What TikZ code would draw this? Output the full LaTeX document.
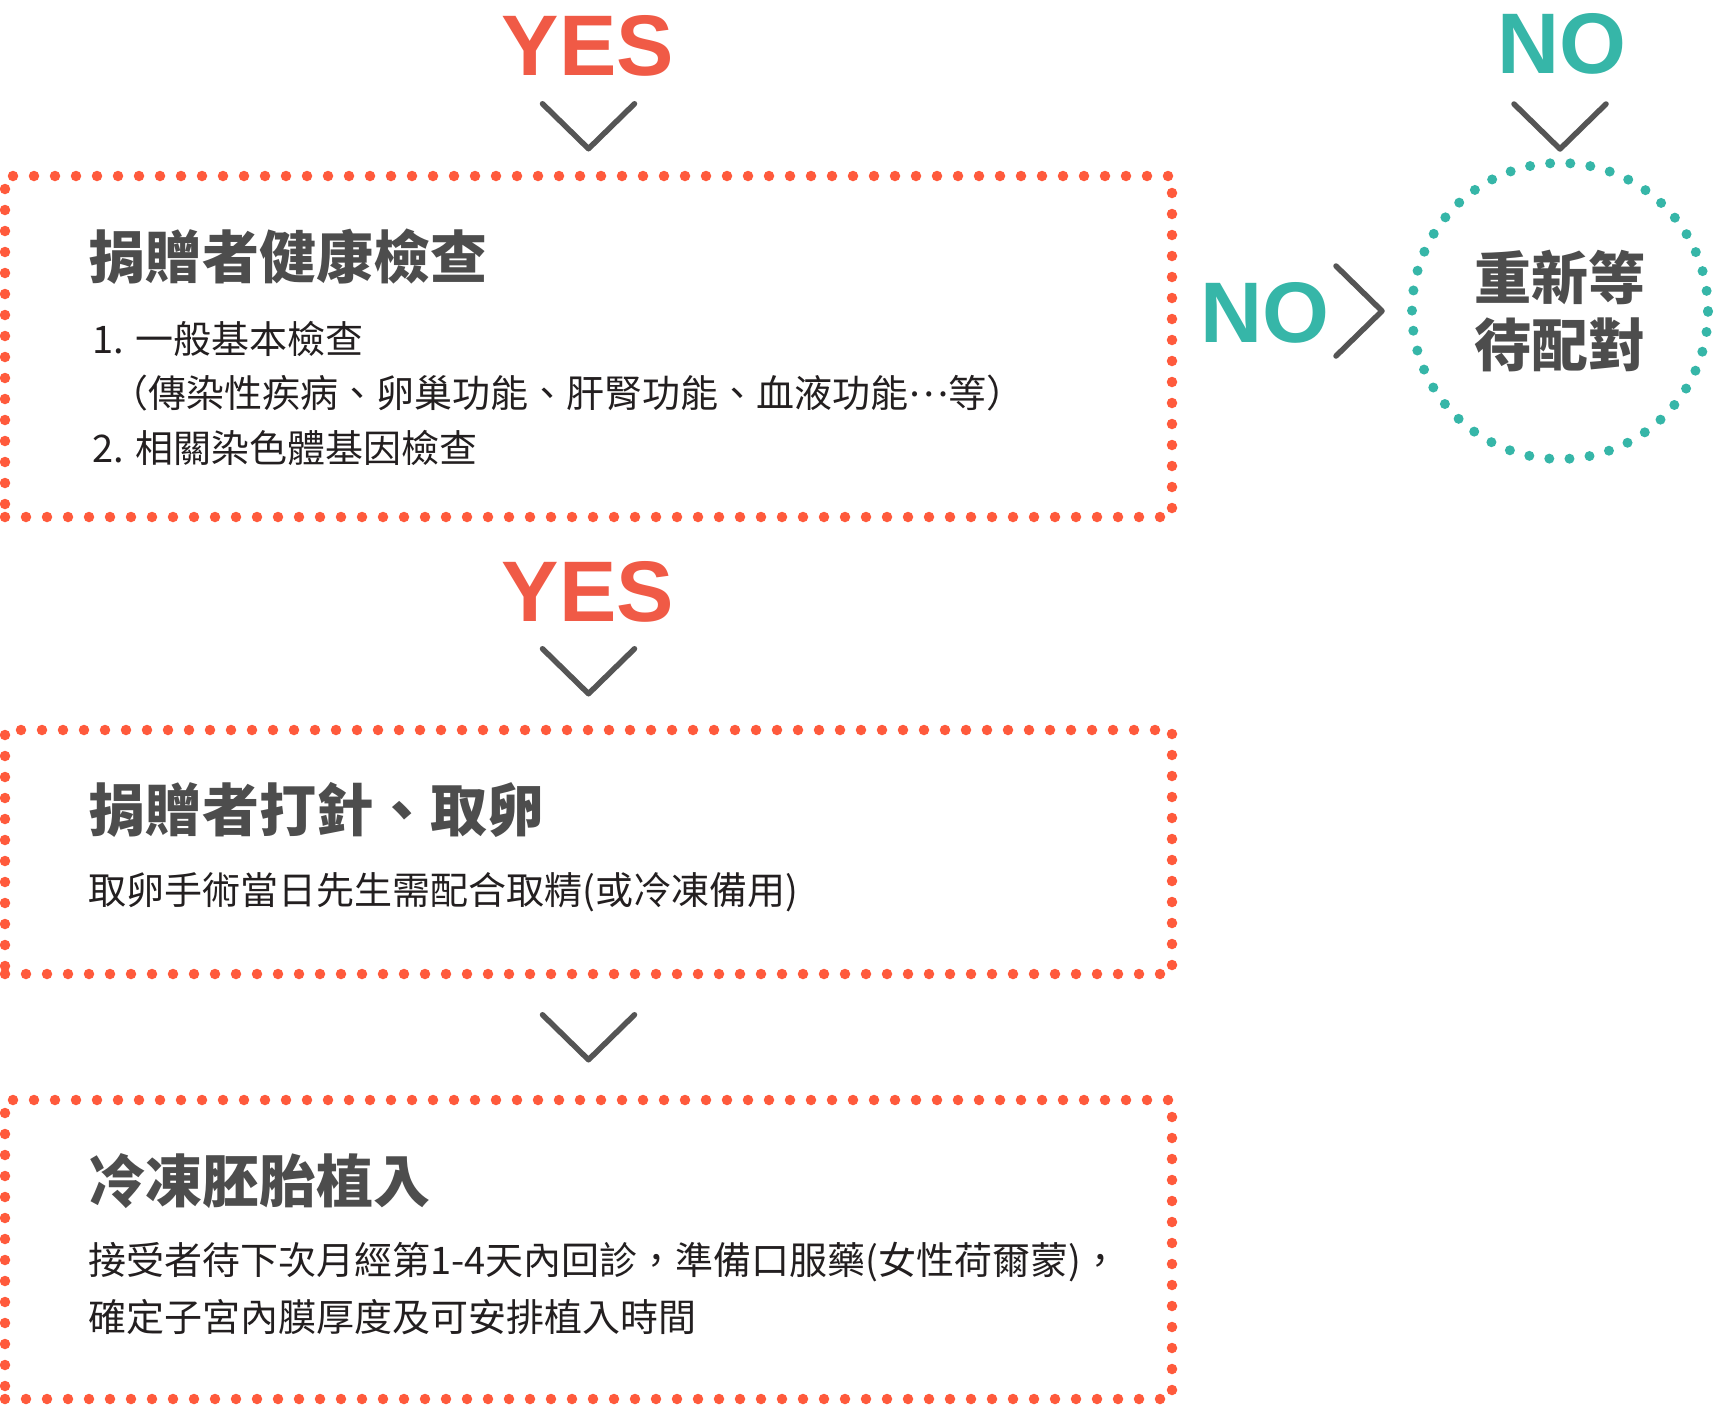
\documentclass[tikz,border=0pt]{standalone}
\usepackage{fontspec}
\usetikzlibrary{calc}
\setmainfont{Liberation Sans}
\newfontfamily\cjk{Noto Sans CJK TC}
\definecolor{dotred}{RGB}{255,90,60}
\definecolor{yesred}{RGB}{240,90,70}
\definecolor{noteal}{RGB}{54,182,168}
\definecolor{chevgray}{RGB}{85,85,85}
\definecolor{titlegray}{RGB}{77,77,77}
\definecolor{bodyblack}{RGB}{35,31,32}

\begin{document}
\begin{tikzpicture}[x=1pt, y=-1pt,
  dotbox/.style={draw=dotred, line width=10.5pt, line cap=round, dash pattern=on 0pt off 21pt, inner sep=0pt, minimum width=1167pt},
  dotcircle/.style={circle, draw=noteal, line width=10pt, line cap=round, dash pattern=on 0pt off 20.2pt, inner sep=0pt, minimum size=296pt},
  chevron/.style={draw=chevgray, line width=5.5pt, line cap=round, line join=round},
  yeslabel/.style={font=\fontsize{86}{86}\selectfont\bfseries, text=yesred, inner sep=0pt, anchor=base},
  nolabel/.style={font=\fontsize{86}{86}\selectfont\bfseries, text=noteal, inner sep=0pt, anchor=base},
  steptitle/.style={font=\cjk\fontsize{57}{57}\selectfont\bfseries, text=titlegray, inner sep=0pt, anchor=west},
  stepline/.style={font=\cjk\fontsize{38}{38}\selectfont, text=bodyblack, inner sep=0pt, anchor=west}]

\useasboundingbox (0,0) rectangle (1714,1406);

\node[dotbox, minimum height=341pt] (check) at (588.5,346.5) {};

\node[dotbox, minimum height=244pt] (retrieve) at (588.5,852) {};

\node[dotbox, minimum height=299pt] (transfer) at (588.5,1249.5) {};

\node[dotcircle, font=\cjk\fontsize{57}{67}\selectfont\bfseries, text=titlegray, align=center] (rematch) at (1560,311) {重新等\\待配對};

\node[yeslabel] (yes1) at (588,75) {YES};

\node[yeslabel] (yes2) at (588,621) {YES};

\node[nolabel] (no1) at (1562,73) {NO};

\node[nolabel] (no2) at (1265,342) {NO};

\coordinate (tip1) at ($(check.north)+(0,-22)$);
\coordinate (tip2) at ($(retrieve.north)+(0,-31)$);
\coordinate (tip3) at ($(transfer.north)+(0,-35)$);
\coordinate (tip4) at ($(rematch.north)+(0,-9)$);
\coordinate (tip5) at ($(rematch.west)+(-25,0)$);

\draw[chevron] ($(tip1)+(-46,-45)$) -- (tip1) -- ++(46,-45);
\draw[chevron] ($(tip2)+(-46,-45)$) -- (tip2) -- ++(46,-45);
\draw[chevron] ($(tip3)+(-46,-45)$) -- (tip3) -- ++(46,-45);
\draw[chevron] ($(tip4)+(-46,-45)$) -- (tip4) -- ++(46,-45);
\draw[chevron] ($(tip5)+(-46,-45)$) -- (tip5) -- ++(-46,45);

\node[steptitle] (checktitle) at (88,257) {捐贈者健康檢查};

\node[stepline] (checkline1) at (92,339) {1. 一般基本檢查};

\node[stepline] (checkline2) at (110,393) {（傳染性疾病、卵巢功能、肝腎功能、血液功能\raisebox{11pt}{…}等）};

\node[stepline] (checkline3) at (92,448) {2. 相關染色體基因檢查};

\node[steptitle] (retrievetitle) at (88,810) {捐贈者打針、取卵};

\node[stepline] (retrieveline) at (88,892) {取卵手術當日先生需配合取精(或冷凍備用)};

\node[steptitle] (transfertitle) at (88,1181) {冷凍胚胎植入};

\node[stepline] (transferline1) at (88,1262) {接受者待下次月經第1-4天內回診，準備口服藥(女性荷爾蒙)，};

\node[stepline] (transferline2) at (88,1317) {確定子宮內膜厚度及可安排植入時間};

\end{tikzpicture}
\end{document}
